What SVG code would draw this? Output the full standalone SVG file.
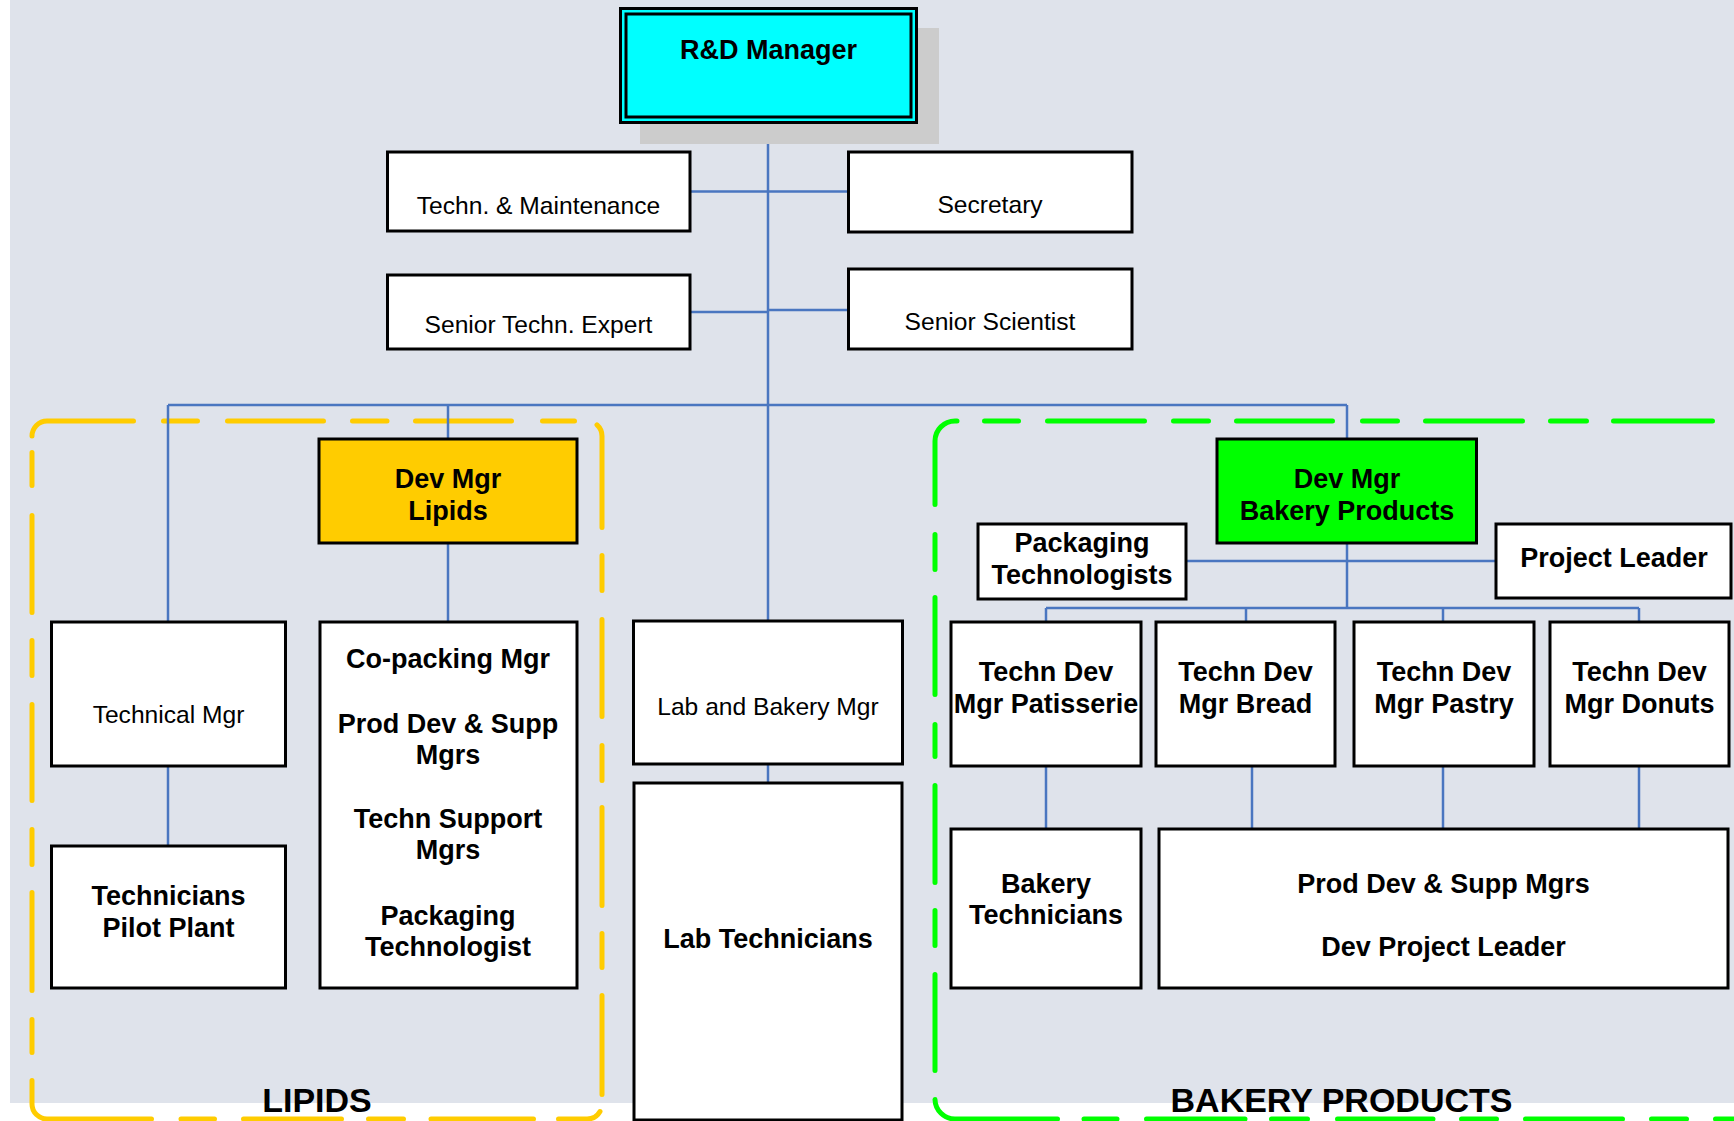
<svg xmlns="http://www.w3.org/2000/svg" width="1734" height="1121" viewBox="0 0 1734 1121">
  <style>
    .box { fill: #ffffff; stroke: #000000; stroke-width: 3; }
    .link { fill: none; stroke: #4a76c0; stroke-width: 2.5; }
    .t { font-family: "Liberation Sans", Arial, sans-serif; text-anchor: middle; fill: #000000; }
    .b { font-weight: bold; font-size: 27px; }
    .r { font-size: 24.6px; }
    .area { font-family: "Liberation Sans", Arial, sans-serif; text-anchor: middle; font-weight: bold; font-size: 34px; fill: #000000; }
    .frame { fill: none; stroke-width: 5; stroke-linecap: round; }
  </style>

  <!-- page background -->
  <rect x="0" y="0" width="1734" height="1121" fill="#ffffff"/>
  <rect x="10" y="0" width="1724" height="1103" fill="#dfe3eb"/>

  <!-- department frames: dashed rounded outlines, each dash drawn as a sub-path -->
  <g id="area-lipids">
    <path class="frame" stroke="#ffcc00" d="
      M32 436 A15 15 0 0 1 47 421 H133.5
      M163.5 421 H197.5 M227.5 421 H323.5 M352.5 421 H387 M415.5 421 H511.5 M542.5 421 H574.5
      M597 424.8 A15 15 0 0 1 602 436 V527.5
      M602 555.5 V590.5 M602 619.5 V716.5 M602 745.5 V780.5 M602 807.5 V905.5 M602 933.5 V967.5 M602 995.5 V1094.5
      M600 1111.5 A15 15 0 0 1 587 1119 H558.5
      M533.5 1119 H431 M403.5 1119 H368.5 M341.5 1119 H243.5 M214.5 1119 H181
      M32 1080.5 V1104 A15 15 0 0 0 47 1119 H151.5
      M32 1019.5 V1052.5 M32 892.5 V990.5 M32 829.5 V864.5 M32 704.5 V800.5 M32 640.5 V675.5 M32 515.5 V612.5 M32 452.5 V485.5"/>
    <text class="area" x="317" y="1112">LIPIDS</text>
  </g>
  <g id="area-bakery">
    <path class="frame" stroke="#00ff00" d="
      M957 421 H955 A20 20 0 0 0 935 441 V504.5
      M984.5 421 H1018.5 M1047.5 421 H1144.5 M1173.5 421 H1208.5 M1236.5 421 H1332.5
      M1362.5 421 H1397.5 M1425.5 421 H1522.5 M1550.5 421 H1586.5 M1613.5 421 H1712.5
      M935 534.5 V569.5 M935 597.5 V694.5 M935 724.5 V756.5 M935 785.5 V882.5 M935 910.5 V945.5 M935 974.5 V1070.5
      M935 1099.5 A20 20 0 0 0 955 1119 H1057.5
      M1084 1119 H1117 M1146.5 1119 H1245 M1271.5 1119 H1307.5 M1337.5 1119 H1433
      M1461.5 1119 H1496.5 M1525.5 1119 H1622.5 M1651.5 1119 H1686.5 M1715.5 1119 H1800"/>
    <text class="area" x="1341.5" y="1112">BAKERY PRODUCTS</text>
  </g>

  <!-- reporting lines -->
  <g id="connectors">
    <path class="link" d="M768 122 V621"/>
    <path class="link" d="M690 191.5 H848"/>
    <path class="link" d="M690 312 H768"/>
    <path class="link" d="M768 310 H848"/>
    <path class="link" d="M168 405 H1347"/>
    <path class="link" d="M168 405 V622"/>
    <path class="link" d="M448 405 V439"/>
    <path class="link" d="M1347 405 V439"/>
    <path class="link" d="M448 543 V622"/>
    <path class="link" d="M168 766 V846"/>
    <path class="link" d="M768 764 V783"/>
    <path class="link" d="M1347 543 V608"/>
    <path class="link" d="M1186 561 H1496"/>
    <path class="link" d="M1046 608 H1639"/>
    <path class="link" d="M1046 608 V622"/>
    <path class="link" d="M1246 608 V622"/>
    <path class="link" d="M1443 608 V622"/>
    <path class="link" d="M1639 608 V622"/>
    <path class="link" d="M1046 766 V829"/>
    <path class="link" d="M1252 766 V829"/>
    <path class="link" d="M1443 766 V829"/>
    <path class="link" d="M1639 766 V829"/>
  </g>

  <!-- top manager -->
  <g id="rd-manager">
    <rect x="640" y="28" width="299" height="116" fill="#cccccc"/>
    <rect x="620.5" y="8.5" width="296" height="114" fill="#00ffff" stroke="#000000" stroke-width="3"/>
    <rect x="626" y="14" width="285" height="103" fill="none" stroke="#000000" stroke-width="3"/>
    <text class="t b" x="768.5" y="59">R&amp;D Manager</text>
  </g>

  <!-- staff functions -->
  <g id="techn-maintenance">
    <rect class="box" x="387.5" y="152" width="302.5" height="79"/>
    <text class="t r" x="538.5" y="214">Techn. &amp; Maintenance</text>
  </g>
  <g id="secretary">
    <rect class="box" x="848.5" y="152" width="283.5" height="80"/>
    <text class="t r" x="990" y="213">Secretary</text>
  </g>
  <g id="senior-techn-expert">
    <rect class="box" x="387.5" y="275" width="302.5" height="74"/>
    <text class="t r" x="538.5" y="333">Senior Techn. Expert</text>
  </g>
  <g id="senior-scientist">
    <rect class="box" x="848.5" y="269" width="283.5" height="80"/>
    <text class="t r" x="990" y="330">Senior Scientist</text>
  </g>

  <!-- lipids -->
  <g id="dev-mgr-lipids">
    <rect x="319" y="439" width="258" height="104" fill="#ffcc00" stroke="#000000" stroke-width="3"/>
    <text class="t b" x="448" y="488">Dev Mgr</text>
    <text class="t b" x="448" y="520">Lipids</text>
  </g>
  <g id="technical-mgr">
    <rect class="box" x="51.5" y="622" width="234" height="144"/>
    <text class="t r" x="168.5" y="723">Technical Mgr</text>
  </g>
  <g id="technicians-pilot-plant">
    <rect class="box" x="51.5" y="846" width="234" height="142"/>
    <text class="t b" x="168.5" y="905">Technicians</text>
    <text class="t b" x="168.5" y="937">Pilot Plant</text>
  </g>
  <g id="lipids-team">
    <rect class="box" x="320" y="622" width="257" height="366"/>
    <text class="t b" x="448" y="668">Co-packing Mgr</text>
    <text class="t b" x="448" y="733">Prod Dev &amp; Supp</text>
    <text class="t b" x="448" y="764">Mgrs</text>
    <text class="t b" x="448" y="828">Techn Support</text>
    <text class="t b" x="448" y="859">Mgrs</text>
    <text class="t b" x="448" y="925">Packaging</text>
    <text class="t b" x="448" y="956">Technologist</text>
  </g>

  <!-- lab -->
  <g id="lab-bakery-mgr">
    <rect class="box" x="633.5" y="621" width="269" height="143"/>
    <text class="t r" x="768" y="715">Lab and Bakery Mgr</text>
  </g>
  <g id="lab-technicians">
    <rect class="box" x="634" y="783" width="268" height="337"/>
    <text class="t b" x="768" y="948">Lab Technicians</text>
  </g>

  <!-- bakery products -->
  <g id="dev-mgr-bakery">
    <rect x="1217" y="439" width="259.5" height="104" fill="#00ff00" stroke="#000000" stroke-width="3"/>
    <text class="t b" x="1347" y="488">Dev Mgr</text>
    <text class="t b" x="1347" y="520">Bakery Products</text>
  </g>
  <g id="packaging-technologists">
    <rect class="box" x="978" y="524" width="208" height="75"/>
    <text class="t b" x="1082" y="552">Packaging</text>
    <text class="t b" x="1082" y="584">Technologists</text>
  </g>
  <g id="project-leader">
    <rect class="box" x="1496" y="524" width="235" height="74"/>
    <text class="t b" x="1614" y="567">Project Leader</text>
  </g>
  <g id="tdm-patisserie">
    <rect class="box" x="951" y="622" width="190" height="144"/>
    <text class="t b" x="1046" y="681">Techn Dev</text>
    <text class="t b" x="1046" y="713">Mgr Patisserie</text>
  </g>
  <g id="tdm-bread">
    <rect class="box" x="1156" y="622" width="179" height="144"/>
    <text class="t b" x="1245.5" y="681">Techn Dev</text>
    <text class="t b" x="1245.5" y="713">Mgr Bread</text>
  </g>
  <g id="tdm-pastry">
    <rect class="box" x="1354" y="622" width="180" height="144"/>
    <text class="t b" x="1444" y="681">Techn Dev</text>
    <text class="t b" x="1444" y="713">Mgr Pastry</text>
  </g>
  <g id="tdm-donuts">
    <rect class="box" x="1550" y="622" width="179" height="144"/>
    <text class="t b" x="1639.5" y="681">Techn Dev</text>
    <text class="t b" x="1639.5" y="713">Mgr Donuts</text>
  </g>
  <g id="bakery-technicians">
    <rect class="box" x="951" y="829" width="190" height="159"/>
    <text class="t b" x="1046" y="893">Bakery</text>
    <text class="t b" x="1046" y="924">Technicians</text>
  </g>
  <g id="bakery-team">
    <rect class="box" x="1159" y="829" width="569" height="159"/>
    <text class="t b" x="1443.5" y="893">Prod Dev &amp; Supp Mgrs</text>
    <text class="t b" x="1443.5" y="956">Dev Project Leader</text>
  </g>
</svg>
